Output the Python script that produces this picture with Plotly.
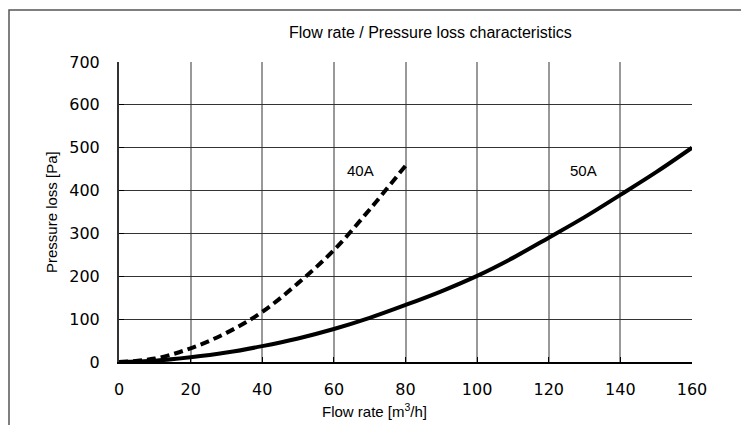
from plotly import graph_objects

flow_40a = [0, 10, 20, 30, 40, 50, 60, 70, 80]
loss_40a = [0, 8, 32, 68, 117, 184, 261, 356, 458]

flow_50a = [0, 10, 20, 30, 40, 50, 60, 70, 80, 90, 100, 110, 120, 130, 140, 150, 160]
loss_50a = [0, 3, 11, 22, 37, 55, 77, 103, 133, 165, 201, 243, 290, 338, 390, 443, 500]

x_ticks = [0, 20, 40, 60, 80, 100, 120, 140, 160]
y_ticks = [0, 100, 200, 300, 400, 500, 600, 700]

labels = {"40A": (67.3, 447), "50A": (129.8, 448)}

title = "Flow rate / Pressure loss characteristics"
x_title = "Flow rate [m<sup>3</sup>/h]"
y_title = "Pressure loss [Pa]"

# the page has an 8px body margin, so the figure is made that much smaller
OFF = 8
W, H = 749 - OFF, 425 - OFF
L, R, T, B = 119 - OFF, 57, 62 - OFF, 63
pw, ph = W - L - R, H - T - B


def px_to_paper(px, py):
    # page pixel -> paper coordinates
    return (px - OFF - L) / pw, (H + OFF - B - py) / ph


text_font = dict(family="Liberation Sans, Arial", size=15, color="#000")
tick_font = dict(family="DejaVu Sans, Verdana", size=16, color="#000")

fig = graph_objects.Figure()
fig.add_scatter(x=flow_50a, y=loss_50a, mode="lines", line_shape="spline",
                line=dict(color="#000", width=4), name="50A")
fig.add_scatter(x=flow_40a, y=loss_40a, mode="lines", line_shape="spline",
                line=dict(color="#000", width=4, dash="9px,5px"), name="40A")

for text, (x, y) in labels.items():
    fig.add_annotation(x=x, y=y, text=text, showarrow=False, font=text_font,
                       xanchor="center", yanchor="middle")

tx, ty = px_to_paper(430, 33)
fig.add_annotation(xref="paper", yref="paper", x=tx, y=ty, text=title, showarrow=False,
                   xanchor="center", yanchor="middle",
                   font=dict(family="Liberation Sans, Arial", size=16, color="#000"))
xx, xy = px_to_paper(374, 410)
fig.add_annotation(xref="paper", yref="paper", x=xx, y=xy, text=x_title, showarrow=False,
                   xanchor="center", yanchor="middle", font=text_font)
yx, yy = px_to_paper(51, 212)
fig.add_annotation(xref="paper", yref="paper", x=yx, y=yy, text=y_title, showarrow=False,
                   xanchor="center", yanchor="middle", textangle=-90, font=text_font)

# outer frame around the whole chart (runs off the right and bottom edge)
bx0, by1 = px_to_paper(OFF + 1, 10)
bx1, by0 = px_to_paper(770, 440)
fig.add_shape(type="rect", xref="paper", yref="paper", x0=bx0, x1=bx1, y0=by0, y1=by1,
              line=dict(color="#555", width=1.5), layer="below")

fig.update_xaxes(range=[0, 160], tickvals=x_ticks, ticks="inside", ticklen=5, tickcolor="#000",
                 showgrid=True, gridcolor="#999", gridwidth=2, zeroline=False,
                 showline=True, linecolor="#000", linewidth=2, tickfont=tick_font,
                 ticklabelstandoff=12)
fig.update_yaxes(range=[0, 700], tickvals=y_ticks, ticks="inside", ticklen=5, tickcolor="#000",
                 showgrid=True, gridcolor="#333", gridwidth=1, zeroline=False,
                 showline=True, linecolor="#333", linewidth=2, tickfont=tick_font,
                 ticklabelstandoff=14)

fig.update_layout(width=W, height=H, margin=dict(l=L, r=R, t=T, b=B),
                  plot_bgcolor="#fff", paper_bgcolor="#fff", showlegend=False)

fig.write_html("out.html")
